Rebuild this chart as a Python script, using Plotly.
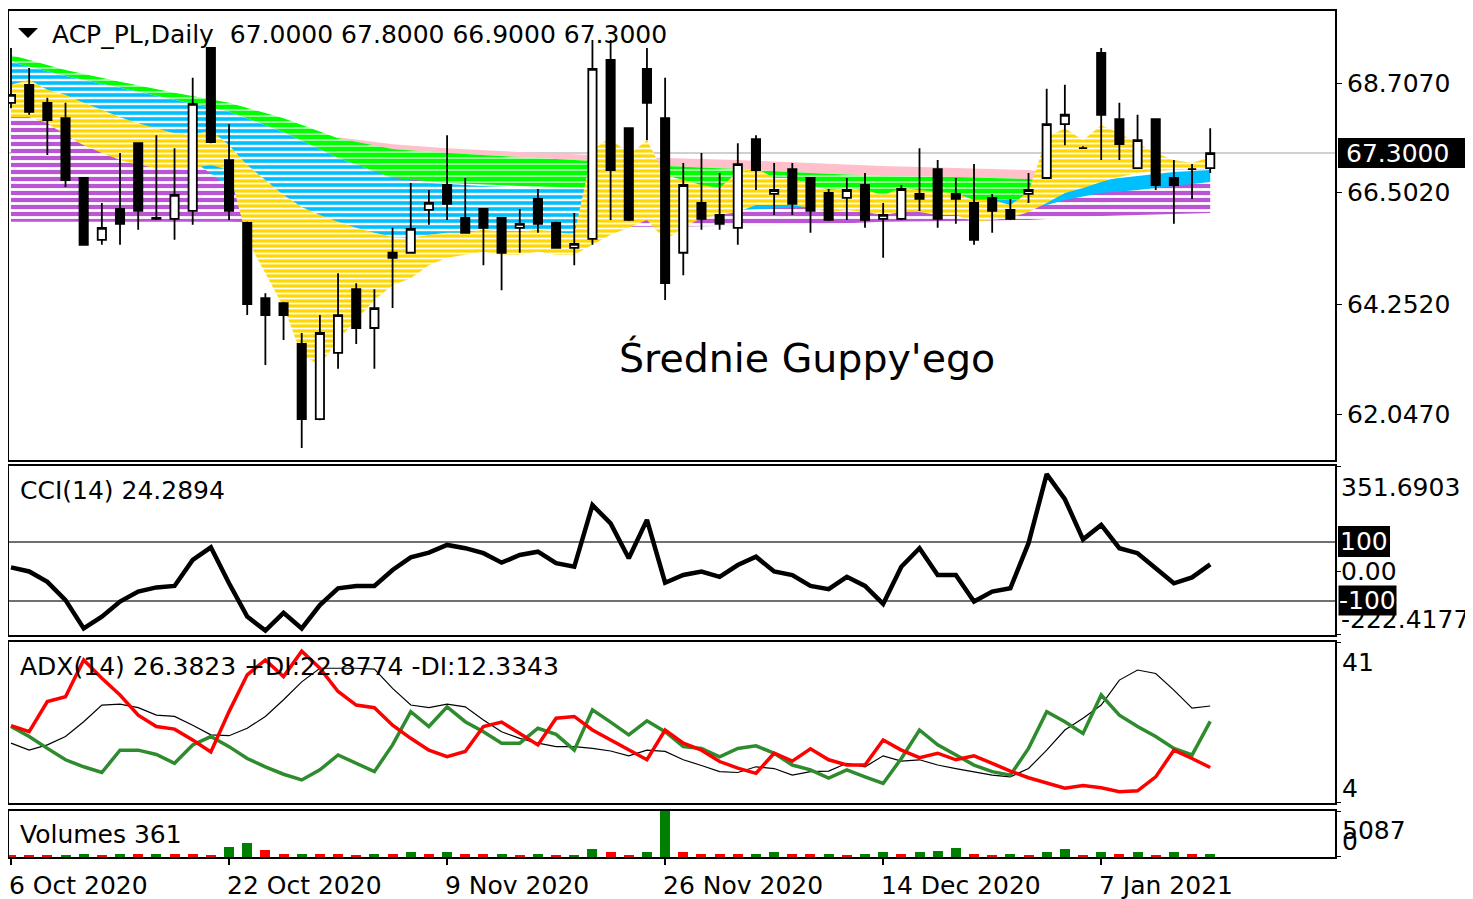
import plotly.graph_objects as go

# ---------------- data ----------------
dates = ["2020-10-06", "2020-10-07", "2020-10-08", "2020-10-09", "2020-10-12", "2020-10-13", "2020-10-14",
         "2020-10-15", "2020-10-16", "2020-10-19", "2020-10-20", "2020-10-21", "2020-10-22", "2020-10-23",
         "2020-10-26", "2020-10-27", "2020-10-28", "2020-10-29", "2020-10-30",
         "2020-11-02", "2020-11-03", "2020-11-04", "2020-11-05", "2020-11-06", "2020-11-09", "2020-11-10",
         "2020-11-12", "2020-11-13", "2020-11-16", "2020-11-17", "2020-11-18", "2020-11-19", "2020-11-20",
         "2020-11-23", "2020-11-24", "2020-11-25", "2020-11-26", "2020-11-27", "2020-11-30",
         "2020-12-01", "2020-12-02", "2020-12-03", "2020-12-04", "2020-12-07", "2020-12-08", "2020-12-09",
         "2020-12-10", "2020-12-11", "2020-12-14", "2020-12-15", "2020-12-16", "2020-12-17", "2020-12-18",
         "2020-12-21", "2020-12-22", "2020-12-23", "2020-12-28", "2020-12-29", "2020-12-30",
         "2021-01-04", "2021-01-07", "2021-01-08", "2021-01-11", "2021-01-12", "2021-01-13", "2021-01-14",
         "2021-01-15"]

open_ = [68.31, 68.67, 68.31, 68.00, 66.80, 65.56, 66.18, 67.50, 66.00, 65.98,
         66.14, 69.41, 67.16, 65.90, 64.39, 64.29, 63.47, 61.96, 63.29, 64.57,
         63.79, 65.30, 65.30, 66.16, 66.66, 66.00, 66.18, 66.00, 65.80, 66.38,
         65.90, 65.40, 65.58, 69.17, 67.80, 68.99, 68.00, 65.30, 66.30, 66.06,
         65.80, 67.58, 66.48, 66.98, 66.80, 66.50, 66.40, 66.66, 65.98, 65.98,
         66.48, 66.98, 66.48, 66.30, 66.40, 66.16, 66.48, 66.80, 67.88, 67.40,
         69.31, 67.98, 67.00, 67.98, 66.80, 66.98, 67.00]
high_ = [69.41, 69.01, 68.41, 68.31, 66.82, 66.30, 67.30, 67.52, 67.66, 67.40,
         68.81, 69.43, 67.88, 65.92, 64.49, 64.31, 63.69, 64.05, 64.89, 64.69,
         64.57, 65.80, 66.70, 66.56, 67.66, 66.80, 66.20, 66.02, 66.18, 66.58,
         65.92, 66.10, 69.57, 69.57, 67.82, 69.41, 68.81, 67.10, 67.30, 66.90,
         67.50, 67.66, 67.10, 67.10, 66.82, 66.58, 66.80, 66.90, 66.30, 66.66,
         67.40, 67.16, 66.80, 67.08, 66.48, 66.38, 66.90, 68.59, 68.67, 67.44,
         69.41, 68.31, 68.07, 68.00, 67.16, 67.08, 67.80]
low_ = [68.20, 68.07, 67.26, 66.62, 65.44, 65.46, 65.46, 65.76, 65.96, 65.56,
        65.86, 67.50, 65.96, 64.05, 63.05, 63.55, 61.38, 61.94, 62.97, 63.47,
        62.97, 64.19, 65.28, 65.86, 65.96, 65.68, 65.05, 64.55, 65.30, 65.70,
        65.38, 65.05, 65.46, 65.96, 65.94, 67.56, 64.35, 64.85, 65.76, 65.76,
        65.46, 66.56, 66.06, 66.06, 65.70, 65.94, 65.96, 65.80, 65.20, 65.96,
        66.14, 65.80, 65.88, 65.46, 65.70, 65.96, 66.30, 66.78, 67.46, 67.38,
        67.16, 67.16, 66.98, 66.56, 65.88, 66.38, 66.90]
close_ = [68.47, 68.13, 67.96, 66.76, 65.46, 65.80, 65.88, 66.14, 65.98, 66.46,
          68.29, 67.52, 66.14, 64.27, 64.05, 64.05, 61.96, 63.69, 64.05, 63.79,
          64.19, 65.20, 65.78, 66.30, 66.28, 65.70, 65.80, 65.30, 65.88, 65.88,
          65.40, 65.48, 68.99, 66.96, 65.96, 68.31, 64.69, 66.66, 65.98, 65.88,
          67.08, 66.96, 66.56, 66.28, 66.14, 65.96, 66.56, 65.96, 66.06, 66.58,
          66.38, 65.98, 66.38, 65.56, 66.14, 65.98, 66.56, 67.88, 68.07, 67.40,
          68.07, 67.48, 67.56, 66.66, 66.66, 66.98, 67.30]

cci = [14, 0, -35, -97, -193, -153, -102, -68, -54, -49,
       39, 82, -40, -153, -200, -140, -193, -114, -57, -49,
       -49, 5, 48, 64, 90, 79, 62, 30, 56, 67,
       28, 16, 225, 163, 45, 175, -38, -12, 0, -18,
       22, 50, 0, -12, -49, -60, -18, -49, -110, 16,
       79, -12, -12, -102, -68, -57, 96, 330, 245, 109,
       158, 79, 62, 11, -40, -20, 24.2894]

adx = [17.9, 16.3, 17.5, 19.4, 22.8, 26.6, 26.8, 26.0, 24.3, 24.0,
       22.0, 19.8, 19.6, 21.3, 24.0, 27.8, 31.9, 35.0, 35.0, 35.0,
       34.8, 30.4, 26.6, 26.0, 26.8, 26.2, 23.2, 20.5, 19.0, 17.9,
       17.1, 17.1, 16.7, 16.1, 15.0, 16.3, 16.0, 14.1, 12.8, 11.4,
       11.2, 12.5, 12.1, 10.6, 11.4, 11.5, 13.3, 12.5, 15.0, 13.8,
       14.1, 12.9, 12.1, 11.4, 10.6, 10.2, 12.1, 16.3, 20.9, 23.6,
       26.6, 32.3, 34.6, 33.8, 30.0, 25.9, 26.3823]
plus_di = [21.7, 19.4, 16.7, 14.1, 12.5, 11.2, 16.3, 16.3, 15.3, 13.3,
           17.5, 19.4, 17.1, 14.4, 12.5, 10.8, 9.5, 11.8, 15.2, 13.3,
           11.4, 17.5, 25.1, 21.7, 26.2, 22.8, 20.5, 17.9, 17.9, 21.3,
           19.9, 16.3, 25.5, 22.7, 19.8, 23.0, 20.5, 17.1, 16.7, 14.8,
           16.7, 17.3, 15.6, 12.9, 11.8, 9.9, 11.8, 10.2, 8.7, 14.4,
           20.9, 17.5, 15.2, 12.9, 11.4, 10.6, 16.7, 25.1, 22.8, 20.1,
           28.9, 24.3, 21.7, 19.4, 16.7, 15.2, 22.8774]
minus_di = [21.9, 20.5, 27.4, 28.5, 36.9, 32.7, 28.9, 24.3, 21.7, 21.1,
            18.6, 15.9, 25.1, 33.5, 36.9, 33.1, 38.9, 35.0, 29.7, 26.6,
            26.0, 22.0, 19.0, 16.3, 14.8, 16.0, 21.7, 22.7, 20.1, 17.5,
            23.6, 24.0, 20.9, 18.6, 16.3, 14.1, 20.9, 17.9, 16.3, 13.7,
            12.2, 11.0, 15.6, 13.8, 16.6, 14.1, 12.9, 12.9, 18.6, 16.3,
            14.6, 15.6, 14.1, 15.0, 13.3, 11.5, 10.0, 8.7, 7.6, 8.2,
            7.7, 6.8, 7.0, 10.2, 16.3, 14.4, 12.3343]

volume = [150, 140, 130, 180, 350, 150, 350, 330, 350, 330,
          320, 150, 1100, 1600, 800, 330, 350, 330, 320, 150,
          350, 330, 600, 330, 600, 330, 320, 350, 150, 350,
          150, 160, 900, 600, 150, 600, 5087, 600, 330, 320,
          310, 350, 600, 330, 320, 350, 150, 350, 600, 330,
          600, 620, 1000, 330, 150, 350, 150, 600, 850, 150,
          600, 330, 600, 150, 600, 330, 361]

tick_dates = ["2020-10-06", "2020-10-22", "2020-11-09", "2020-11-26", "2020-12-14", "2021-01-07"]
tick_labels = ["6 Oct 2020", "22 Oct 2020", "9 Nov 2020", "26 Nov 2020", "14 Dec 2020", "7 Jan 2021"]

price_ticks = [68.707, 66.502, 64.252, 62.047]
cci_levels = [100, -100]
cci_scale = [351.6903, -222.4177]
adx_scale = [41, 4]
vol_scale = [5087, 0]

# Guppy multiple moving average bands (upper / lower edge of each colour group)
purple_x = [0, 6, 11, 12, 15, 18, 21, 24, 28, 32, 36, 40, 44, 48, 52, 56, 58, 60, 62, 64, 66]
purple_top = [68.11, 68.11, 68.11, 67.86, 67.56, 67.16, 66.86, 66.66, 66.46, 66.36, 66.26,
              66.26, 66.26, 66.26, 66.26, 66.30, 66.46, 66.60, 66.66, 66.70, 66.72]
purple_bot = [65.92, 65.92, 65.92, 65.92, 65.90, 65.88, 65.86, 65.84, 65.84, 65.82, 65.82,
              65.84, 65.86, 65.92, 65.94, 65.96, 66.00, 66.04, 66.06, 66.08, 66.10]

pink_x = [18, 21, 24, 28, 32, 36, 40, 44, 48, 52, 56, 57]
pink_top = [67.62, 67.48, 67.40, 67.32, 67.26, 67.20, 67.16, 67.10, 67.04, 67.00, 66.96, 66.92]
pink_bot = [67.56, 67.38, 67.30, 67.22, 67.14, 67.04, 66.98, 66.90, 66.84, 66.82, 66.78, 66.76]

green_x = [0, 3, 6, 9, 12, 15, 18, 21, 24, 28, 32, 36, 40, 44, 48, 52, 56, 57]
green_top = [69.27, 68.97, 68.73, 68.51, 68.31, 68.00, 67.60, 67.38, 67.30, 67.22, 67.14,
             67.04, 66.98, 66.90, 66.84, 66.82, 66.78, 66.72]
green_bot = [69.13, 68.85, 68.61, 68.37, 68.13, 67.72, 67.20, 66.80, 66.70, 66.64, 66.60,
             66.56, 66.50, 66.44, 66.40, 66.38, 66.36, 66.36]

blue_x = [0, 3, 6, 9, 12, 15, 18, 21, 23, 26, 29, 32, 36, 40, 44, 48, 52, 56, 57, 58, 60, 62, 64, 66]
blue_top = [69.13, 68.85, 68.61, 68.37, 68.13, 67.72, 67.20, 66.80, 66.70, 66.64, 66.60, 66.60,
            66.56, 66.50, 66.44, 66.40, 66.38, 66.36, 66.40, 66.52, 66.76, 66.84, 66.92, 66.96]
blue_bot = [68.43, 68.21, 67.82, 67.42, 66.62, 65.56, 65.01, 65.11, 65.36, 65.56, 65.64, 65.72,
            66.06, 66.16, 66.22, 66.22, 66.22, 66.22, 66.26, 66.36, 66.50, 66.56, 66.64, 66.72]

yellow_top = [68.67, 68.77, 68.57, 68.47, 68.31, 68.17, 68.02, 67.90, 67.80, 67.70,
              67.66, 67.76, 67.46, 67.06, 66.76, 66.46, 66.22, 66.06, 65.92, 65.80,
              65.70, 65.62, 65.60, 65.66, 65.70, 65.70, 65.76, 65.72, 65.72, 65.76,
              65.72, 65.66, 67.36, 67.62, 67.26, 67.56, 66.86, 66.76, 66.66, 66.60,
              66.92, 67.00, 66.80, 66.80, 66.66, 66.56, 66.60, 66.56, 66.46, 66.60,
              66.56, 66.52, 66.50, 66.36, 66.36, 66.26, 66.52, 67.62, 67.80, 67.56,
              67.86, 67.70, 67.50, 67.30, 67.16, 67.10, 67.22]
yellow_bot = [68.02, 68.02, 67.90, 67.66, 67.46, 67.30, 67.16, 67.06, 67.00, 66.96,
              67.00, 67.06, 66.96, 65.56, 64.89, 64.21, 63.25, 63.05, 63.55, 63.95,
              64.35, 64.65, 64.79, 65.05, 65.20, 65.26, 65.32, 65.26, 65.26, 65.32,
              65.26, 65.26, 65.46, 65.66, 65.80, 65.96, 65.56, 65.80, 66.00, 66.06,
              66.12, 66.26, 66.26, 66.26, 66.20, 66.12, 66.16, 66.12, 66.06, 66.12,
              66.12, 66.06, 66.06, 65.92, 65.96, 66.00, 66.12, 66.30, 66.50, 66.60,
              66.72, 66.82, 66.90, 66.94, 66.96, 66.96, 66.96]

# ---------------- geometry ----------------
W, H = 1473, 899
OFF = 8          # the page body margin shifts the figure by 8 px
FONT = "DejaVu Sans"


def fx(px):
    return (px - OFF) / W


def fy(py):
    return 1 - (py - OFF) / H


PLOT_L, PLOT_R = 9, 1335
BAR0, STEP = 11, 18.17
x_range = [(PLOT_L - BAR0) / STEP, (PLOT_R - BAR0) / STEP]

main_dom = [fy(460), fy(11)]
cci_dom = [fy(635), fy(466)]
adx_dom = [fy(803), fy(642)]
vol_dom = [fy(857), fy(811)]
main_rng = [61.141, 70.152]
cci_rng = [-215.3, 357.6]
adx_rng = [4.23, 41.0]
vol_rng = [0, 5087]

xi = list(range(len(dates)))

fig = go.Figure()


def band_trace(xs, top, bot, color, stripe=None):
    px_ = list(xs) + list(xs)[::-1]
    py_ = list(top) + list(bot)[::-1]
    kw = dict(x=px_, y=py_, mode="none", fill="toself", hoverinfo="skip",
              xaxis="x", yaxis="y", showlegend=False, fillcolor=color)
    if stripe:
        size, sol = stripe
        kw["fillpattern"] = dict(shape="-", fgcolor="white", bgcolor=color, fgopacity=1,
                                 size=size, solidity=sol)
    return go.Scatter(**kw)


PURPLE, PINK, GREEN, BLUE, GOLD = "#BA55D3", "#FFC0CB", "#00FF00", "#00BFFF", "#FFD700"

fig.add_trace(band_trace(purple_x, purple_top, purple_bot, PURPLE, (7, 0.4)))
fig.add_trace(band_trace(pink_x, pink_top, pink_bot, PINK))
fig.add_trace(band_trace(green_x, green_top, green_bot, GREEN, (6, 0.2)))
ba = [i for i, v in enumerate(blue_x) if v <= 36]
bb = [i for i, v in enumerate(blue_x) if v >= 36]
fig.add_trace(band_trace([blue_x[i] for i in ba], [blue_top[i] for i in ba],
                         [blue_bot[i] for i in ba], BLUE, (6, 0.4)))
fig.add_trace(band_trace([blue_x[i] for i in bb], [blue_top[i] for i in bb],
                         [blue_bot[i] for i in bb], BLUE))
fig.add_trace(band_trace(xi, yellow_top, yellow_bot, GOLD, (5, 0.35)))

# candles on an overlaying axis so they sit above the bands
fig.add_trace(go.Candlestick(
    x=xi, open=open_, high=high_, low=low_, close=close_,
    increasing=dict(fillcolor="white", line=dict(color="black", width=1.8)),
    decreasing=dict(fillcolor="black", line=dict(color="black", width=1.8)),
    whiskerwidth=0, xaxis="x", yaxis="y5", showlegend=False, hoverinfo="skip"))

# CCI
fig.add_trace(go.Scatter(x=xi, y=cci, mode="lines", line=dict(color="black", width=4.5),
                         xaxis="x2", yaxis="y2", showlegend=False, hoverinfo="skip"))
# ADX
fig.add_trace(go.Scatter(x=xi, y=adx, mode="lines", line=dict(color="black", width=1.2),
                         xaxis="x3", yaxis="y3", showlegend=False, hoverinfo="skip"))
fig.add_trace(go.Scatter(x=xi, y=plus_di, mode="lines", line=dict(color="#2E8B2E", width=3.5),
                         xaxis="x3", yaxis="y3", showlegend=False, hoverinfo="skip"))
fig.add_trace(go.Scatter(x=xi, y=minus_di, mode="lines", line=dict(color="#FF0000", width=3.5),
                         xaxis="x3", yaxis="y3", showlegend=False, hoverinfo="skip"))
# Volumes
vcol = ["#008000" if i > 0 and volume[i] > volume[i - 1] else "#FF0000" for i in xi]
fig.add_trace(go.Bar(x=xi, y=volume, marker=dict(color=vcol, line=dict(width=0)), width=0.55,
                     xaxis="x4", yaxis="y4", showlegend=False, hoverinfo="skip"))

# ---------------- axes ----------------
frame = dict(showgrid=False, zeroline=False, showline=True, linecolor="black", linewidth=1.5,
             mirror=True, fixedrange=True, automargin=False)
xcommon = dict(frame, range=x_range, domain=[fx(PLOT_L), fx(PLOT_R)], showticklabels=False,
               rangeslider=dict(visible=False))
tick_idx = [dates.index(d) for d in tick_dates]

layout = dict(
    width=W, height=H, margin=dict(l=0, r=0, t=0, b=0, autoexpand=False),
    paper_bgcolor="white", plot_bgcolor="white", showlegend=False,
    boxgap=0.35, boxgroupgap=0.3, bargap=0,
    xaxis=dict(xcommon, anchor="y", ticks=""),
    xaxis2=dict(xcommon, anchor="y2", matches="x", ticks=""),
    xaxis3=dict(xcommon, anchor="y3", matches="x", ticks=""),
    xaxis4=dict(xcommon, anchor="y4", matches="x", ticks="outside", tickvals=tick_idx,
                ticklen=6, tickwidth=1.5, tickcolor="black"),
    yaxis=dict(frame, domain=main_dom, range=main_rng, anchor="x", side="right",
               ticks="outside", tickvals=price_ticks, ticklen=5, tickcolor="black",
               showticklabels=False),
    yaxis5=dict(overlaying="y", range=main_rng, anchor="x", visible=False, fixedrange=True),
    yaxis2=dict(frame, domain=cci_dom, range=cci_rng, anchor="x2", side="right",
                ticks="outside", tickvals=[cci_rng[1] - 1, 0, cci_rng[0] + 1], ticklen=4,
                tickcolor="black", showticklabels=False),
    yaxis3=dict(frame, domain=adx_dom, range=adx_rng, anchor="x3", side="right",
                ticks="outside", tickvals=[adx_rng[1] - 0.2, adx_rng[0] + 0.2], ticklen=4,
                tickcolor="black", showticklabels=False),
    yaxis4=dict(frame, domain=vol_dom, range=vol_rng, anchor="x4", side="right",
                ticks="outside", tickvals=[vol_rng[1] - 60, 40], ticklen=4,
                tickcolor="black", showticklabels=False),
)
fig.update_layout(**layout)

# ---------------- shapes ----------------
shapes = []
shapes.append(dict(type="line", xref="x domain", yref="y", x0=0, x1=1, y0=close_[-1], y1=close_[-1],
                   line=dict(color="#C0C0C0", width=1.5), layer="below"))
for lv in cci_levels:
    shapes.append(dict(type="line", xref="x2 domain", yref="y2", x0=0, x1=1, y0=lv, y1=lv,
                       line=dict(color="#404040", width=1.5), layer="below"))
shapes.append(dict(type="line", xref="paper", yref="paper", x0=fx(0), x1=fx(1425), y0=fy(5), y1=fy(5),
                   line=dict(color="#2E8B57", width=1.5)))
shapes.append(dict(type="path", xref="paper", yref="paper",
                   path=f"M {fx(18)},{fy(28)} L {fx(38)},{fy(28)} L {fx(28)},{fy(38)} Z",
                   fillcolor="black", line=dict(width=0)))
shapes.append(dict(type="rect", xref="paper", yref="paper", x0=fx(1338), x1=fx(1465),
                   y0=fy(168), y1=fy(138), fillcolor="black", line=dict(width=0)))
shapes.append(dict(type="rect", xref="paper", yref="paper", x0=fx(1338), x1=fx(1390),
                   y0=fy(557), y1=fy(526), fillcolor="black", line=dict(width=0)))
fig.update_layout(shapes=shapes)

# ---------------- annotations ----------------
ann = []


def txt(text, x, y, size=25, color="black", xanchor="left", yref="paper", xref="paper",
        bgcolor=None, xshift=0):
    d = dict(text=text, x=x, y=y, xref=xref, yref=yref, xanchor=xanchor,
             yanchor="middle", showarrow=False, xshift=xshift,
             font=dict(family=FONT, size=size, color=color))
    if bgcolor:
        d["bgcolor"] = bgcolor
        d["borderpad"] = 0
    ann.append(d)


NB = "\u00a0"
txt(f"ACP_PL,Daily{NB}{NB}{open_[-1]:.4f} {high_[-1]:.4f} {low_[-1]:.4f} {close_[-1]:.4f}",
    fx(50), fy(34))
txt("Średnie Guppy'ego", fx(617), fy(358), size=39.5)
txt(f"CCI(14) {cci[-1]:.4f}", fx(18), fy(490))
txt(f"ADX(14) {adx[-1]:.4f} +DI:{plus_di[-1]:.4f} -DI:{minus_di[-1]:.4f}", fx(18), fy(666))
txt(f"Volumes {volume[-1]}", fx(18), fy(834))

for v in price_ticks:
    txt(f"{v:.4f}", fx(1345), v, yref="y")
txt(f"{close_[-1]:.4f}", fx(1344), close_[-1], color="white", yref="y")

txt(f"{cci_scale[0]:.4f}", fx(1339), fy(487))
txt("0.00", fx(1339), fy(571))
txt(f"{cci_scale[1]:.4f}", fx(1339), fy(619))
txt(f"{cci_levels[0]}", fx(1338), fy(541), color="white")
txt(f"{cci_levels[1]}", fx(1338), fy(600), color="white", bgcolor="black")

txt(f"{adx_scale[0]}", fx(1340), fy(662))
txt(f"{adx_scale[1]}", fx(1340), fy(788))
txt(f"{vol_scale[0]}", fx(1340), fy(830))
txt(f"{vol_scale[1]}", fx(1340), fy(841))

for ti, tl in zip(tick_idx, tick_labels):
    txt(tl, ti, fy(885), xref="x4", xshift=-4)

fig.update_layout(annotations=ann)

fig.write_html("out.html")
